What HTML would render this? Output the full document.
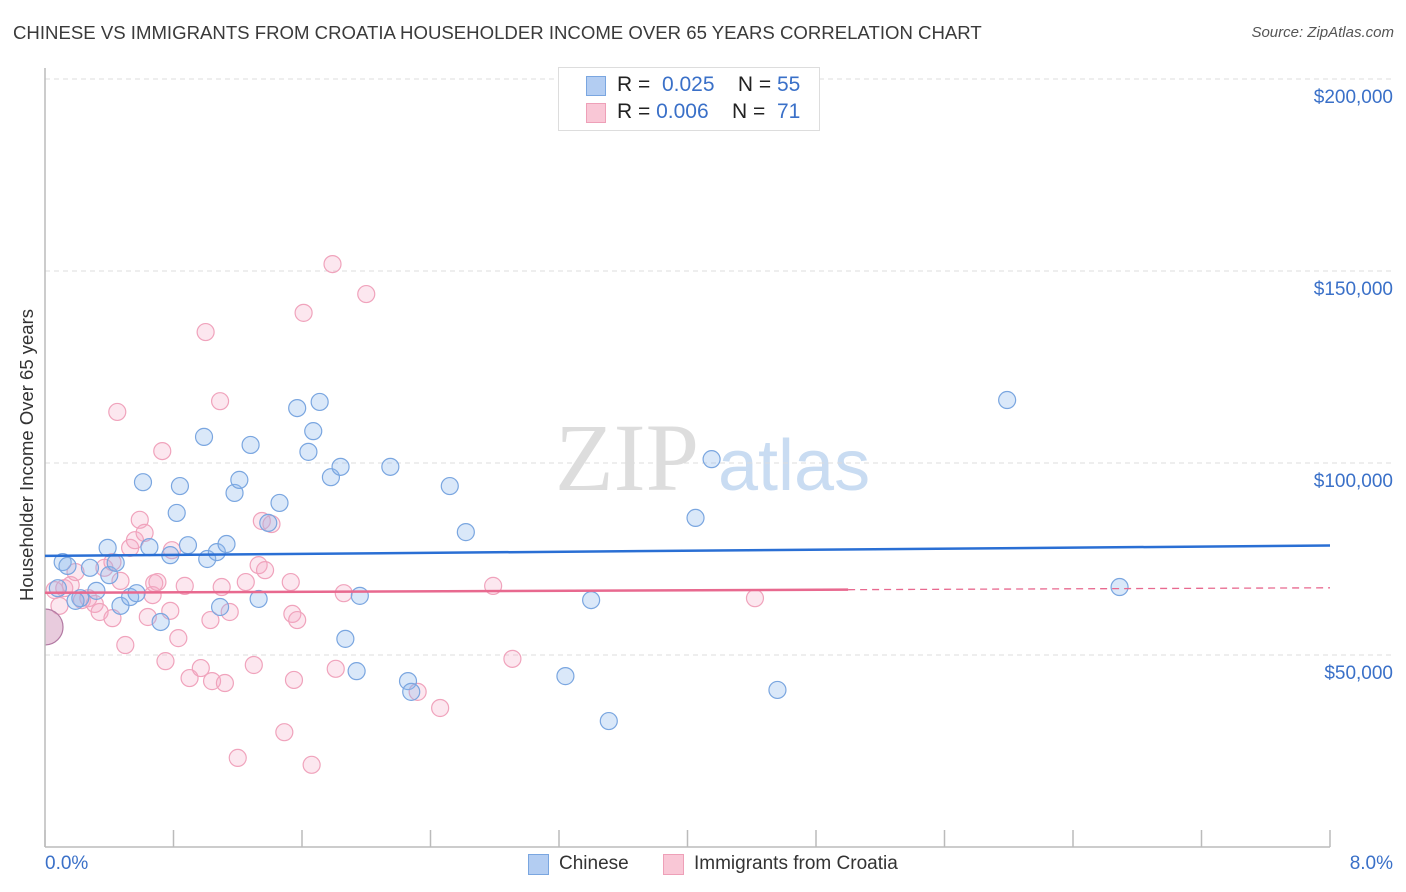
<!DOCTYPE html>
<html><head><meta charset="utf-8">
<style>
body{margin:0;background:#fff;font-family:"Liberation Sans",sans-serif;}
#wrap{position:relative;width:1406px;height:892px;overflow:hidden;}
.t{position:absolute;white-space:nowrap;}
</style></head>
<body>
<div id="wrap">
<div class="t" style="left:13px;top:22px;font-size:18.6px;color:#3a3a3a;">CHINESE VS IMMIGRANTS FROM CROATIA HOUSEHOLDER INCOME OVER 65 YEARS CORRELATION CHART</div>
<div class="t" style="right:12px;top:24px;font-size:15px;color:#555;font-style:italic;">Source: ZipAtlas.com</div>
<div class="t" style="left:27px;top:455px;font-size:18.5px;color:#333;transform:translate(-50%,-50%) rotate(-90deg);">Householder Income Over 65 years</div>
<svg id="svg" width="1406" height="892" style="position:absolute;left:0;top:0"></svg>
<div style="position:absolute;left:558px;top:67px;width:260px;height:62px;border:1px solid #ddd;background:#fff;">
 <div style="position:absolute;left:27px;top:8px;width:18px;height:18px;background:#b3cdf2;border:1px solid #7aa6e0;"></div>
 <div class="t" style="left:58px;top:5px;font-size:21px;color:#222;">R = <span style="color:#3a70c8">&nbsp;0.025</span>&nbsp;&nbsp;&nbsp; N = <span style="color:#3a70c8">55</span></div>
 <div style="position:absolute;left:27px;top:35px;width:18px;height:18px;background:#f9c7d6;border:1px solid #eea0b8;"></div>
 <div class="t" style="left:58px;top:32px;font-size:21px;color:#222;">R = <span style="color:#3a70c8">0.006</span>&nbsp;&nbsp;&nbsp; N = <span style="color:#3a70c8">&nbsp;71</span></div>
</div>
<div class="t" style="left:45px;top:853px;font-size:19px;color:#3a70c8;">0.0%</div>
<div class="t" style="right:13px;top:853px;font-size:19px;color:#3a70c8;">8.0%</div>
<div style="position:absolute;left:528px;top:854px;width:19px;height:19px;background:#b3cdf2;border:1px solid #7aa6e0;"></div>
<div class="t" style="left:559px;top:853px;font-size:19px;color:#333;">Chinese</div>
<div style="position:absolute;left:663px;top:854px;width:19px;height:19px;background:#f9c7d6;border:1px solid #eea0b8;"></div>
<div class="t" style="left:694px;top:853px;font-size:19px;color:#333;">Immigrants from Croatia</div>
</div>
<script>
const yTicks=[50000,100000,150000,200000];
const yTickLabels=["$50,000","$100,000","$150,000","$200,000"];
const xTicks=[0,0.8,1.6,2.4,3.2,4,4.8,5.6,6.4,7.2,8];
const chineseX=[0.08,0.11,0.14,0.22,0.28,0.19,0.32,0.39,0.40,0.44,0.47,0.53,0.57,0.61,0.65,0.72,0.78,0.82,0.84,0.89,0.99,1.01,1.07,1.09,1.13,1.18,1.21,1.28,1.33,1.39,1.46,1.57,1.64,1.67,1.71,1.78,1.84,1.87,1.94,1.96,2.15,2.26,2.28,2.52,2.62,3.24,3.40,3.51,4.05,4.15,4.56,5.99,6.69];
const chineseY=[67400,74200,73200,64800,72700,64100,66700,77900,70800,74000,62800,65100,66100,95000,78100,58600,76000,87000,94000,78600,106800,75000,76800,62500,78900,92200,95600,104700,64600,84400,89600,114300,102900,108300,115900,96300,99000,54200,45800,65400,99000,43200,40400,94000,82000,44500,64300,32800,85700,101000,40900,116400,67700];
const croatiaX=[0.06,0.09,0.12,0.16,0.19,0.23,0.27,0.31,0.34,0.37,0.42,0.45,0.50,0.53,0.56,0.59,0.62,0.64,0.67,0.68,0.70,0.73,0.75,0.78,0.79,0.83,0.87,0.90,0.97,1.00,1.03,1.04,1.09,1.10,1.12,1.15,1.20,1.25,1.30,1.33,1.35,1.37,1.41,1.49,1.53,1.54,1.57,1.55,1.61,1.66,1.79,1.81,1.86,2.00,2.32,2.46,2.79,2.91,4.42,0.42,0.47];
const croatiaY=[66900,62800,67400,68200,71600,64300,64800,63300,61200,72700,59600,113300,52600,77900,79900,85200,81800,59900,65600,68700,69000,103100,48400,61500,77300,54400,68000,44000,46600,134100,59100,43200,116100,67700,42700,61200,23200,69000,47400,73400,84900,72100,84100,29900,69000,60700,59100,43500,139100,21400,151800,46400,66100,144000,40400,36200,68000,49000,64800,74200,69300];
const bigX=[0];const bigY=[57300];
const trendChinese=[75800,78500];
const trendCroatia=[66200,67500];
const trendCroatiaSolidEnd=5.0;

const NS="http://www.w3.org/2000/svg";
const svg=document.getElementById('svg');
const X0=45,X1=1330,Y0=847;
const sx=v=>X0+v/8*(X1-X0);
const sy=v=>Y0-v/50000*192;
function mk(t,a,p){const e=document.createElementNS(NS,t);for(const k in a)e.setAttribute(k,a[k]);(p||svg).appendChild(e);return e;}
const defs=mk('defs',{});
const cp=mk('clipPath',{id:'plotclip'},defs);
mk('rect',{x:X0,y:0,width:1406-X0,height:Y0},cp);
let wm=mk('text',{x:555,y:490,'font-size':96,fill:'#ddd','font-family':'Liberation Serif'});wm.textContent='ZIP';


let wm2=mk('text',{x:718,y:490,'font-size':72,fill:'#c9dcf2','font-family':'Liberation Sans'});wm2.textContent='atlas';


yTicks.forEach((v,i)=>{
 const g=mk('line',{x1:X0,x2:1393,y1:sy(v),y2:sy(v),stroke:'#ddd','stroke-dasharray':'5,4'});
 
 
 const t=mk('text',{x:1393,y:sy(v)+24,'text-anchor':'end','font-size':19,fill:'#3a70c8','font-family':'Liberation Sans'});
 t.textContent=yTickLabels[i];
 
 
});
const gt=mk('line',{x1:X0,x2:1393,y1:79,y2:79,stroke:'#ddd','stroke-dasharray':'5,4'});


const g2=mk('g',{'clip-path':'url(#plotclip)'});
function dots(xs,ys,fill,stroke,name,r){
 xs.forEach((x,i)=>{
  const c=mk('circle',{cx:sx(x),cy:sy(ys[i]),r:r,fill:fill,stroke:stroke,'stroke-width':1.2},g2);
  
  
 });
}
dots(croatiaX,croatiaY,'rgba(246,170,196,0.28)','#f0a3bc','croatia-point',8.5);
dots(chineseX,chineseY,'rgba(140,182,236,0.32)','#7aa6e0','chinese-point',8.5);
dots(bigX,bigY,'rgba(205,140,180,0.45)','#b27aa3','large-point',18);
const ax=mk('line',{x1:X0,x2:X0,y1:68,y2:Y0,stroke:'#bbb','stroke-width':1.5});


const bx=mk('line',{x1:X0,x2:X1,y1:Y0,y2:Y0,stroke:'#bbb','stroke-width':1.5});


xTicks.forEach(v=>{
 const l=mk('line',{x1:sx(v),x2:sx(v),y1:830,y2:Y0,stroke:'#bbb','stroke-width':1.5});
 
 
});
const lc=mk('line',{x1:sx(0),x2:sx(8),y1:sy(trendChinese[0]),y2:sy(trendChinese[1]),stroke:'#2a6fd4','stroke-width':2.5});


const ym=trendCroatia[0]+(trendCroatia[1]-trendCroatia[0])*trendCroatiaSolidEnd/8;
const lp=mk('line',{x1:sx(0),x2:sx(trendCroatiaSolidEnd),y1:sy(trendCroatia[0]),y2:sy(ym),stroke:'#e8698f','stroke-width':2.5});


const lpd=mk('line',{x1:sx(trendCroatiaSolidEnd),x2:sx(8),y1:sy(ym),y2:sy(trendCroatia[1]),stroke:'#e8698f','stroke-width':1.3,'stroke-dasharray':'7,5'});


</script>
</body></html>
